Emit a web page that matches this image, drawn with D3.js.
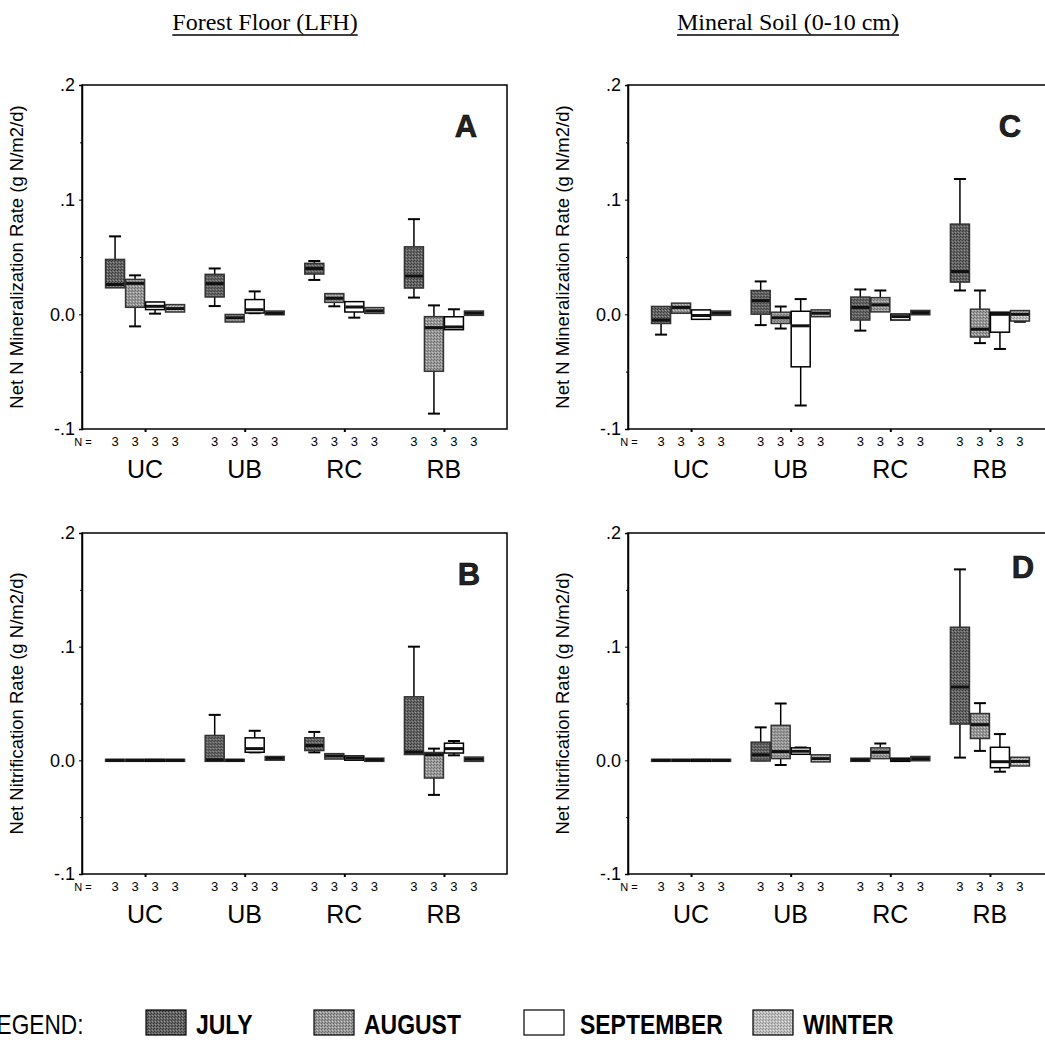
<!DOCTYPE html>
<html>
<head>
<meta charset="utf-8">
<script src="https://cdn.jsdelivr.net/npm/d3@7"></script>
<style>
  body { margin: 0; background: #fff; }
  svg { display: block; }
</style>
</head>
<body>
<div id="chart"></div>
<script>
// categories
const sites = ["UC", "UB", "RC", "RB"];
const seasons = ["JULY", "AUGUST", "SEPTEMBER", "WINTER"];
const nCounts = [3, 3, 3, 3];
const yTicks = [-0.1, 0, 0.1, 0.2];
const yTickLabels = ["-.1", "0.0", ".1", ".2"];
const yMinorTicks = [-0.05, 0.05, 0.15];

// box stats: [whisker low, q1, median, q3, whisker high], site-major, season-minor
const panelA = [
  [0.024, 0.024, 0.026, 0.047, 0.068],
  [-0.0105, 0.007, 0.027, 0.0296, 0.034],
  [0.0006, 0.005, 0.007, 0.0099, 0.010],
  [0.0029, 0.0029, 0.005, 0.0076, 0.0076],
  [0.0072, 0.016, 0.0268, 0.034, 0.040],
  [-0.0058, -0.0058, -0.003, -0.001, -0.001],
  [0.001, 0.002, 0.004, 0.012, 0.020],
  [0.0005, 0.0005, 0.001, 0.002, 0.002],
  [0.030, 0.036, 0.040, 0.0436, 0.0465],
  [0.007, 0.0113, 0.014, 0.0172, 0.0172],
  [-0.0029, 0.0029, 0.0064, 0.0102, 0.0102],
  [0.0017, 0.0017, 0.003, 0.005, 0.005],
  [0.0146, 0.0238, 0.0334, 0.058, 0.083],
  [-0.0866, -0.0488, -0.0116, -0.0029, 0.0078],
  [-0.0125, -0.0125, -0.011, -0.003, 0.0044],
  [0.0, 0.0, 0.001, 0.002, 0.002]
];
const panelB = [
  [0, 0, 0, 0, 0],
  [0, 0, 0, 0, 0],
  [0, 0, 0, 0, 0],
  [0, 0, 0, 0, 0],
  [0, 0, 0.0005, 0.021, 0.040],
  [0, 0, 0, 0, 0],
  [0.007, 0.008, 0.0103, 0.0189, 0.026],
  [0.001, 0.001, 0.0018, 0.0025, 0.0025],
  [0.007, 0.0095, 0.013, 0.019, 0.025],
  [0.002, 0.002, 0.0038, 0.005, 0.005],
  [0.001, 0.001, 0.002, 0.003, 0.003],
  [0, 0, 0.0005, 0.001, 0.001],
  [0.006, 0.006, 0.0073, 0.055, 0.100],
  [-0.0304, -0.0147, 0.005, 0.006, 0.0103],
  [0.0044, 0.0073, 0.0103, 0.0142, 0.017],
  [0, 0, 0.001, 0.002, 0.002]
];
const panelC = [
  [-0.0177, -0.0071, -0.005, 0.006, 0.006],
  [0.0018, 0.0018, 0.006, 0.0089, 0.0089],
  [-0.0035, -0.0035, -0.001, 0.003, 0.003],
  [0, 0, 0.001, 0.002, 0.002],
  [-0.0094, 0.001, 0.012, 0.0199, 0.0287],
  [-0.0124, -0.0071, -0.003, 0.001, 0.0068],
  [-0.0795, -0.0449, -0.010, 0.0018, 0.0133],
  [-0.0012, -0.0012, 0.001, 0.003, 0.003],
  [-0.0142, -0.0041, 0.006, 0.0142, 0.0217],
  [0.003, 0.003, 0.0083, 0.0137, 0.0208],
  [-0.0041, -0.0041, -0.002, -0.0006, -0.0006],
  [0.0005, 0.0005, 0.0015, 0.0025, 0.0025],
  [0.0208, 0.029, 0.0373, 0.0778, 0.118],
  [-0.0251, -0.0189, -0.013, 0.0036, 0.0208],
  [-0.0302, -0.0147, 0.0, 0.001, 0.001],
  [-0.0065, -0.005, 0.0, 0.0024, 0.0024]
];
const panelD = [
  [0, 0, 0, 0, 0],
  [0, 0, 0, 0, 0],
  [0, 0, 0, 0, 0],
  [0, 0, 0, 0, 0],
  [0, 0.0003, 0.0048, 0.0151, 0.029],
  [-0.0041, 0.0024, 0.0077, 0.0299, 0.050],
  [0.0062, 0.0062, 0.008, 0.0101, 0.0113],
  [-0.0005, -0.0005, 0.0015, 0.004, 0.004],
  [0, 0, 0.0003, 0.001, 0.001],
  [0.002, 0.0024, 0.0071, 0.0101, 0.0148],
  [0, 0, 0.0005, 0.001, 0.001],
  [0.0005, 0.0005, 0.0015, 0.0025, 0.0025],
  [0.0024, 0.0328, 0.0645, 0.1162, 0.168],
  [0.0083, 0.0201, 0.0314, 0.0403, 0.0503],
  [-0.010, -0.0056, -0.0012, 0.0106, 0.0231],
  [-0.0041, -0.0041, -0.001, 0.0018, 0.0018]
];

const width = 1045, height = 1047;
const sans = "'Liberation Sans', Arial, sans-serif";
const svg = d3.select("#chart").append("svg")
  .attr("width", width).attr("height", height);

// halftone-ish fills
const fills = [
  { id: "pJul", base: "#666666", dark: "#383838", light: "#959595" },
  { id: "pAug", base: "#999999", dark: "#6a6a6a", light: "#c8c8c8" },
  { id: "pSep", base: "#ffffff", dark: "#ffffff", light: "#ffffff" },
  { id: "pWin", base: "#bdbdbd", dark: "#919191", light: "#e4e4e4" }
];
const defs = svg.append("defs");
fills.forEach(f => {
  const p = defs.append("pattern").attr("id", f.id)
    .attr("patternUnits", "userSpaceOnUse").attr("width", 3).attr("height", 3);
  p.append("rect").attr("width", 3).attr("height", 3).attr("fill", f.base);
  p.append("rect").attr("x", 0).attr("y", 0).attr("width", 1).attr("height", 1).attr("fill", f.dark);
  p.append("rect").attr("x", 2).attr("y", 1).attr("width", 1).attr("height", 1).attr("fill", f.light);
  p.append("rect").attr("x", 1).attr("y", 2).attr("width", 1).attr("height", 1).attr("fill", f.dark);
});

const panels = [
  { letter: "A", data: panelA, x0: 82, y0: 85, h: 344, title: "Net N Mineralization Rate (g N/m2/d)", lx: 466, ly: 137 },
  { letter: "B", data: panelB, x0: 82, y0: 533, h: 341, title: "Net Nitrification Rate (g N/m2/d)", lx: 469, ly: 585 },
  { letter: "C", data: panelC, x0: 628, y0: 85, h: 344, title: "Net N Mineralization Rate (g N/m2/d)", lx: 1010, ly: 137 },
  { letter: "D", data: panelD, x0: 628, y0: 533, h: 341, title: "Net Nitrification Rate (g N/m2/d)", lx: 1023, ly: 578 }
];
const pw = 425;

panels.forEach(pn => {
  const g = svg.append("g");
  const x = d3.scalePoint().domain(sites).range([pn.x0, pn.x0 + pw]).padding(0.633);
  const xs = d3.scaleBand().domain(seasons).range([-40, 40]);
  const y = d3.scaleLinear().domain([-0.1, 0.2]).range([pn.y0 + pn.h, pn.y0]);

  // frame
  g.append("rect")
    .attr("x", pn.x0).attr("y", pn.y0).attr("width", pw).attr("height", pn.h)
    .attr("fill", "none").attr("stroke", "#000").attr("stroke-width", 1.5);

  // y axis
  const yAxis = d3.axisLeft(y).tickValues(yTicks).tickSize(3)
    .tickFormat((d, i) => yTickLabels[i]);
  const ya = g.append("g").attr("transform", `translate(${pn.x0},0)`).call(yAxis);
  ya.select(".domain").attr("stroke-width", 1.5);
  ya.selectAll("text").attr("font-family", sans)
    .attr("font-size", 18).attr("fill", "#000").attr("dx", -1);
  g.append("g").attr("transform", `translate(${pn.x0},0)`)
    .call(d3.axisLeft(y).tickValues(yMinorTicks).tickSize(2).tickFormat(""))
    .select(".domain").remove();

  // x axis
  const xa = g.append("g").attr("transform", `translate(0,${pn.y0 + pn.h})`)
    .call(d3.axisBottom(x).tickSize(3).tickFormat(""));
  xa.select(".domain").remove();
  xa.selectAll("line").attr("stroke-width", 2);

  // N counts
  g.append("text").attr("x", pn.x0 + 1).attr("y", pn.y0 + pn.h + 17)
    .attr("text-anchor", "middle").attr("font-family", sans)
    .attr("font-size", 11).text("N =");
  sites.forEach(s => {
    seasons.forEach((se, j) => {
      g.append("text").attr("x", x(s) + xs(se) + xs.bandwidth() / 2)
        .attr("y", pn.y0 + pn.h + 17).attr("text-anchor", "middle")
        .attr("font-family", sans).attr("font-size", 13)
        .text(nCounts[j]);
    });
    g.append("text").attr("x", x(s)).attr("y", pn.y0 + pn.h + 49)
      .attr("text-anchor", "middle").attr("font-family", sans)
      .attr("font-size", 25).text(s);
  });

  // boxes
  const rows = [];
  sites.forEach((s, i) => seasons.forEach((se, j) => rows.push({ s, se, j, v: pn.data[i * 4 + j] })));
  const bw = xs.bandwidth();
  const box = g.selectAll("g.box").data(rows).enter().append("g").attr("class", "box")
    .attr("transform", d => `translate(${x(d.s) + xs(d.se)},0)`);
  // whiskers
  box.append("line").attr("x1", bw / 2).attr("x2", bw / 2)
    .attr("y1", d => y(d.v[4])).attr("y2", d => y(d.v[3]))
    .attr("stroke", "#000").attr("stroke-width", 1.5);
  box.append("line").attr("x1", bw / 2).attr("x2", bw / 2)
    .attr("y1", d => y(d.v[1])).attr("y2", d => y(d.v[0]))
    .attr("stroke", "#000").attr("stroke-width", 1.5);
  box.filter(d => d.v[4] > d.v[3]).append("line").attr("x1", bw / 2 - 6).attr("x2", bw / 2 + 6)
    .attr("y1", d => y(d.v[4])).attr("y2", d => y(d.v[4]))
    .attr("stroke", "#000").attr("stroke-width", 2);
  box.filter(d => d.v[0] < d.v[1]).append("line").attr("x1", bw / 2 - 6).attr("x2", bw / 2 + 6)
    .attr("y1", d => y(d.v[0])).attr("y2", d => y(d.v[0]))
    .attr("stroke", "#000").attr("stroke-width", 2);
  box.append("rect").attr("x", 0.5).attr("width", bw - 1)
    .attr("y", d => y(d.v[3]) - 1)
    .attr("height", d => Math.max(2, y(d.v[1]) - y(d.v[3]) + 2))
    .attr("fill", d => `url(#${fills[d.j].id})`)
    .attr("stroke", d => d.j === 2 ? "#000" : "#333").attr("stroke-width", 1.5);
  box.append("line").attr("x1", 1).attr("x2", bw - 1)
    .attr("y1", d => y(d.v[2])).attr("y2", d => y(d.v[2]))
    .attr("stroke", "#111").attr("stroke-width", 3);

  // axis title
  const cx = pn.x0 - 59, cy = pn.y0 + pn.h / 2;
  g.append("text").attr("transform", `translate(${cx},${cy}) rotate(-90)`)
    .attr("text-anchor", "middle").attr("font-family", sans)
    .attr("font-size", 18.5).text(pn.title);

  // panel letter
  g.append("text").attr("x", pn.lx).attr("y", pn.ly).attr("text-anchor", "middle")
    .attr("font-family", sans).attr("font-weight", "bold")
    .attr("font-size", 31).attr("fill", "#222").attr("stroke", "#000").attr("stroke-width", 0.6)
    .text(pn.letter);
});

// column headers
const headers = [
  { text: "Forest Floor (LFH)", x: 265 },
  { text: "Mineral Soil (0-10 cm)", x: 788 }
];
headers.forEach(h => {
  const t = svg.append("text").attr("x", h.x).attr("y", 30).attr("text-anchor", "middle")
    .attr("font-family", "'Liberation Serif', 'Times New Roman', serif").attr("font-size", 24)
    .text(h.text);
  const len = t.node().getComputedTextLength();
  svg.append("line").attr("x1", h.x - len / 2).attr("x2", h.x + len / 2)
    .attr("y1", 35).attr("y2", 35).attr("stroke", "#000").attr("stroke-width", 1.5);
});

// legend (narrow lettering via horizontal squeeze)
const legendX = [146, 314, 524, 753];
const lg = svg.append("g");
lg.append("text").attr("transform", "translate(-16,1034) scale(0.84,1)")
  .attr("font-family", sans).attr("font-size", 27).text("LEGEND:");
seasons.forEach((se, j) => {
  lg.append("rect").attr("x", legendX[j]).attr("y", 1010).attr("width", 40).attr("height", 25)
    .attr("fill", `url(#${fills[j].id})`).attr("stroke", "#000").attr("stroke-width", 1.2);
  lg.append("text").attr("transform", `translate(${legendX[j] + (j === 2 ? 56 : 50)},1034) scale(0.82,1)`)
    .attr("font-family", sans).attr("font-weight", "bold").attr("font-size", 28).text(se);
});
</script>
</body>
</html>
